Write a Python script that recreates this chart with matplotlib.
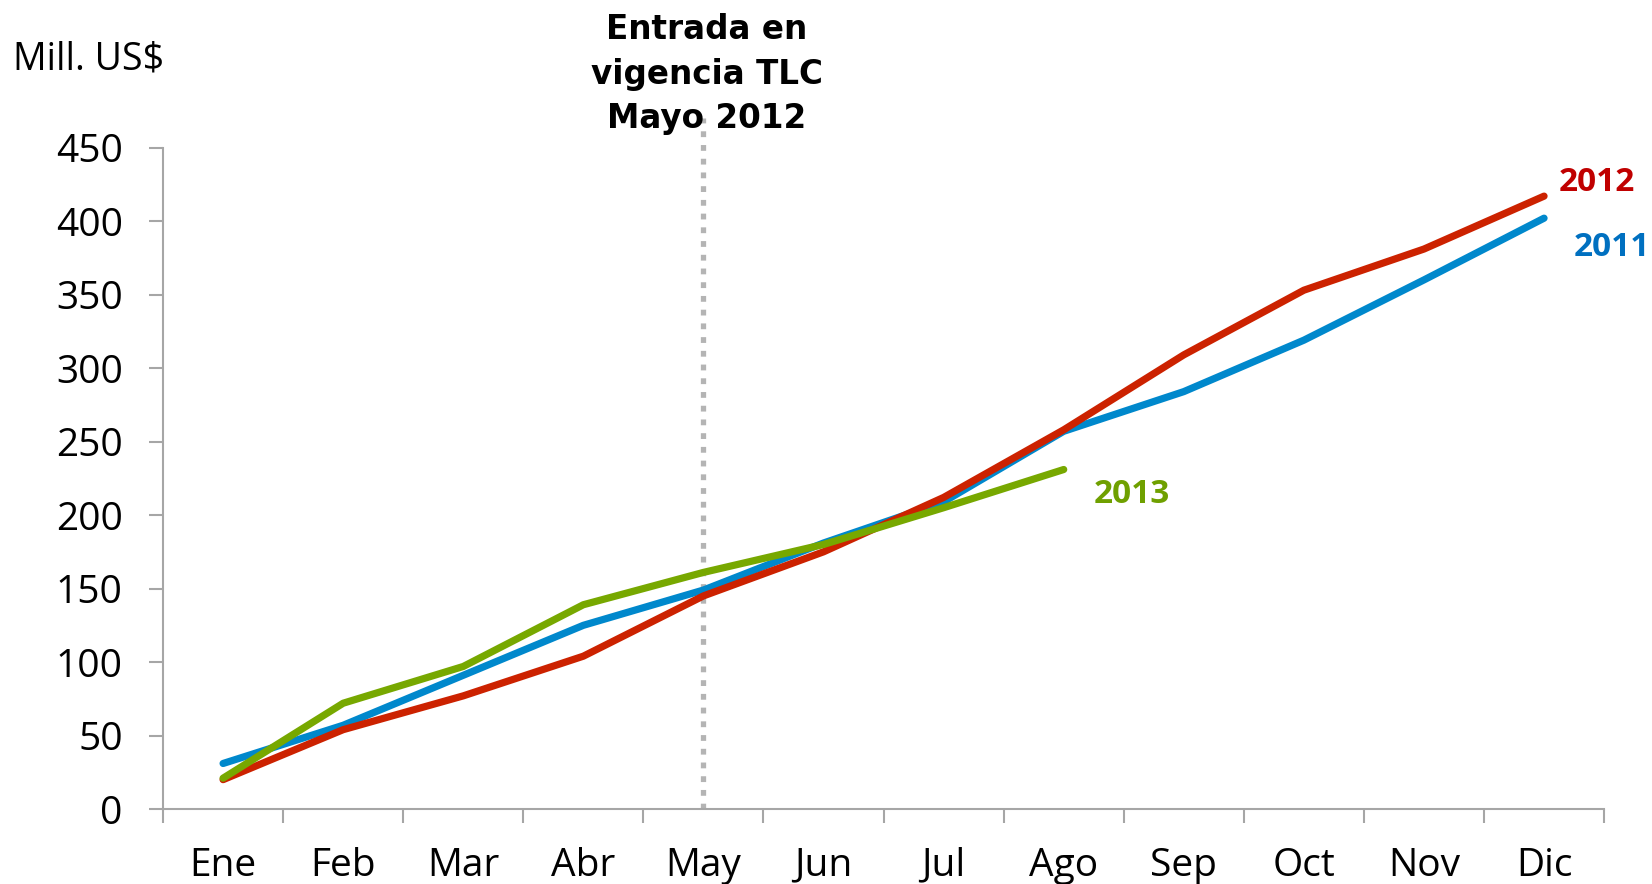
import matplotlib.pyplot as plt
from matplotlib.ticker import FixedLocator

months = ["Ene", "Feb", "Mar", "Abr", "May", "Jun",
          "Jul", "Ago", "Sep", "Oct", "Nov", "Dic"]
y2011 = [31, 57, 91, 125, 149, 181, 209, 257, 284, 319, 360, 402]
y2012 = [20, 54, 77, 104, 145, 175, 212, 258, 309, 353, 381, 417]
y2013 = [21, 72, 97, 139, 161, 180, 205, 231]
tlc_month = 4  # May 2012

c2011 = "#0088CC"
c2012 = "#CC2200"
c2013 = "#77A800"
grey = "#A6A6A6"

fig = plt.figure(figsize=(16.52, 8.84), dpi=100)
ax = fig.add_axes([0.0987, 0.0848, 0.8723, 0.7482])

x11 = list(range(len(y2011)))
x13 = list(range(len(y2013)))
ax.plot(x11, y2011, color=c2011, lw=5.2, solid_capstyle="round", zorder=3)
ax.plot(x11, y2012, color=c2012, lw=5.2, solid_capstyle="round", zorder=4)
ax.plot(x13, y2013, color=c2013, lw=5.2, solid_capstyle="round", zorder=5)

# vertical marker for the FTA start
ax.plot([tlc_month, tlc_month], [0, 470], color="#B4B4B4", lw=3.8,
        linestyle=(0, (1.1, 1.5)), dash_capstyle="butt", clip_on=False, zorder=2)
ax.text(tlc_month + 0.03, 500, "Entrada en\nvigencia TLC\nMayo 2012", ha="center",
        va="center", fontsize=23.5, fontweight="bold", family="DejaVu Sans",
        linespacing=1.45)

ax.text(11.12, 426, "2012", color="#C00000", fontsize=24, fontweight="bold",
        family="Open Sans", va="center", ha="left")
ax.text(11.25, 382, "2011", color="#0070C0", fontsize=24, fontweight="bold",
        family="Open Sans", va="center", ha="left")
ax.text(7.25, 214, "2013", color="#6FA000", fontsize=24, fontweight="bold",
        family="Open Sans", va="center", ha="left")

ax.text(-1.75, 510, "Mill. US$", fontsize=27, family="Open Sans", va="center", ha="left")

ax.set_xlim(-0.5, len(months) - 0.5)
ax.set_ylim(0, 450)
ax.set_yticks(range(0, 451, 50))
ax.set_xticks(x11)
ax.set_xticklabels(months)
ax.xaxis.set_minor_locator(FixedLocator([i - 0.5 for i in range(len(months) + 1)]))

for s in ["top", "right"]:
    ax.spines[s].set_visible(False)
for s in ["left", "bottom"]:
    ax.spines[s].set_color(grey)
    ax.spines[s].set_linewidth(1.5)

ax.tick_params(axis="x", which="major", length=0, pad=27, labelsize=28)
ax.tick_params(axis="x", which="minor", length=10, width=1.5, color=grey)
ax.tick_params(axis="y", length=10, width=1.5, color=grey, pad=19, labelsize=28)
for lab in ax.get_xticklabels() + ax.get_yticklabels():
    lab.set_family("Open Sans")

fig.savefig("out.png", dpi=100)
